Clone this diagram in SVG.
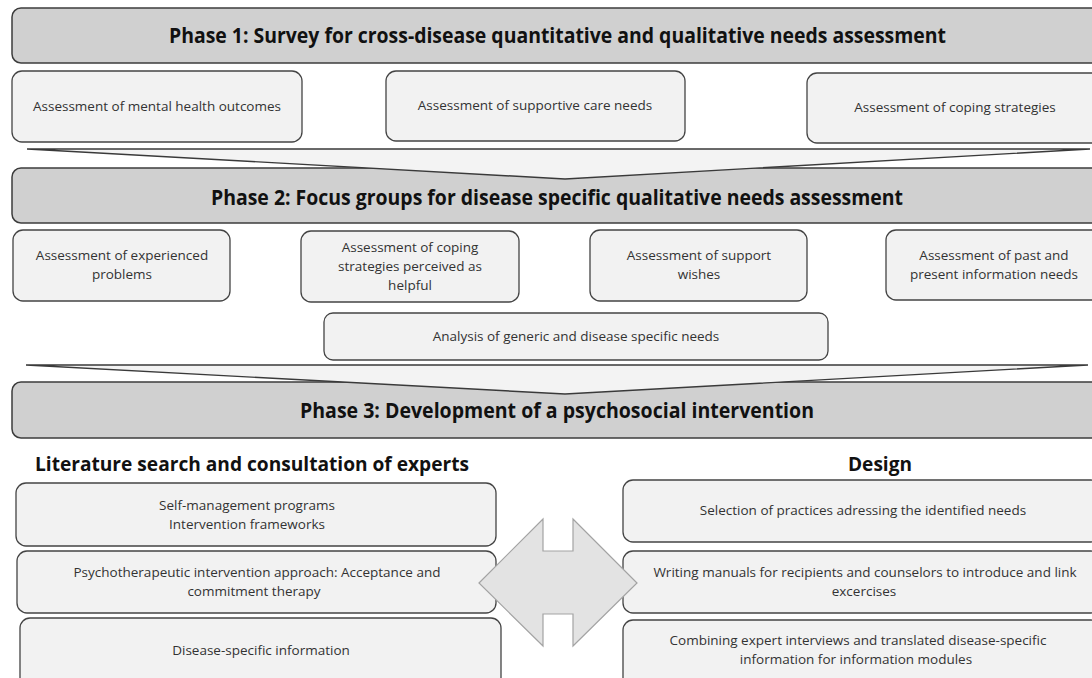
<svg xmlns="http://www.w3.org/2000/svg" width="1092" height="678" viewBox="0 0 1092 678">
  <style>
    .bar { fill: #d0d0d0; stroke: #3c3c3c; stroke-width: 1.5; }
    .box { fill: #f2f2f2; stroke: #444444; stroke-width: 1.3; }
    .chev { fill: #f3f3f3; stroke: #3a3a3a; stroke-width: 1.4; stroke-linejoin: miter; }
    .dbl { fill: #e3e3e3; stroke: #a3a3a3; stroke-width: 1.2; }
    .ph { font-family: "Open Sans", "Liberation Sans", sans-serif; font-weight: 700; font-size: 20.5px; fill: #111111; text-anchor: middle; }
    .hd { font-family: "Open Sans", "Liberation Sans", sans-serif; font-weight: 700; font-size: 19.5px; fill: #111111; text-anchor: middle; }
    .t { font-family: "Open Sans", "Liberation Sans", sans-serif; font-size: 13.5px; fill: #333333; text-anchor: middle; }
  </style>

  <rect width="1092" height="678" fill="#ffffff"/>

  <!-- Phase 1 -->
  <g id="phase1">
    <rect class="bar" x="12" y="8" width="1092" height="55" rx="9"/>
    <text class="ph" x="557.5" y="43" textLength="777" lengthAdjust="spacingAndGlyphs">Phase 1: Survey for cross-disease quantitative and qualitative needs assessment</text>
  </g>
  <g id="p1-mental-health">
    <rect class="box" x="12" y="71" width="290" height="71" rx="10"/>
    <text class="t" x="157" y="111">Assessment of mental health outcomes</text>
  </g>
  <g id="p1-supportive-care">
    <rect class="box" x="386" y="71" width="299" height="70" rx="10"/>
    <text class="t" x="535" y="110">Assessment of supportive care needs</text>
  </g>
  <g id="p1-coping">
    <rect class="box" x="807" y="73" width="296" height="70" rx="10"/>
    <text class="t" x="955" y="112">Assessment of coping strategies</text>
  </g>

  <!-- Phase 2 -->
  <g id="phase2">
    <rect class="bar" x="12" y="168" width="1092" height="55" rx="9"/>
  </g>

  <!-- Phase 3 -->
  <g id="phase3">
    <rect class="bar" x="12" y="382" width="1092" height="56" rx="9"/>
  </g>

  <!-- transitions between phases -->
  <g id="connectors">
    <polygon class="chev" points="27,149 1090,149 565,179"/>
    <polygon class="chev" points="26,365 1088,365 565,394"/>
  </g>

  <g id="phase2-label">
    <text class="ph" x="557" y="205" textLength="692" lengthAdjust="spacingAndGlyphs">Phase 2: Focus groups for disease specific qualitative needs assessment</text>
  </g>
  <g id="p2-problems">
    <rect class="box" x="13" y="230" width="217" height="71" rx="10"/>
    <text class="t" x="122" y="260">Assessment of experienced</text>
    <text class="t" x="122" y="279">problems</text>
  </g>
  <g id="p2-coping">
    <rect class="box" x="301" y="231" width="218" height="71" rx="10"/>
    <text class="t" x="410" y="251.5">Assessment of coping</text>
    <text class="t" x="410" y="270.5">strategies perceived as</text>
    <text class="t" x="410" y="289.5">helpful</text>
  </g>
  <g id="p2-support">
    <rect class="box" x="590" y="230" width="217" height="71" rx="10"/>
    <text class="t" x="699" y="260">Assessment of support</text>
    <text class="t" x="699" y="279">wishes</text>
  </g>
  <g id="p2-information">
    <rect class="box" x="886" y="230" width="216" height="70" rx="10"/>
    <text class="t" x="994" y="260">Assessment of past and</text>
    <text class="t" x="994" y="279">present information needs</text>
  </g>
  <g id="p2-analysis">
    <rect class="box" x="324" y="313" width="504" height="47" rx="9"/>
    <text class="t" x="576" y="341">Analysis of generic and disease specific needs</text>
  </g>

  <g id="phase3-label">
    <text class="ph" x="557" y="418" textLength="514" lengthAdjust="spacingAndGlyphs">Phase 3: Development of a psychosocial intervention</text>
  </g>

  <g id="heading-literature">
    <text class="hd" x="252" y="471" textLength="434" lengthAdjust="spacingAndGlyphs">Literature search and consultation of experts</text>
  </g>
  <g id="heading-design">
    <text class="hd" x="880" y="471" textLength="64" lengthAdjust="spacingAndGlyphs">Design</text>
  </g>

  <g id="lit-programs">
    <rect class="box" x="16" y="483" width="480" height="63" rx="10"/>
    <text class="t" x="247" y="510">Self-management programs</text>
    <text class="t" x="247" y="529">Intervention frameworks</text>
  </g>
  <g id="lit-act">
    <rect class="box" x="17" y="551" width="479" height="62" rx="10"/>
    <text class="t" x="257" y="577">Psychotherapeutic intervention approach: Acceptance and</text>
    <text class="t" x="254" y="596">commitment therapy</text>
  </g>
  <g id="lit-disease">
    <rect class="box" x="20" y="618" width="481" height="72" rx="10"/>
    <text class="t" x="261" y="655">Disease-specific information</text>
  </g>

  <g id="design-selection">
    <rect class="box" x="623" y="480" width="478" height="62" rx="10"/>
    <text class="t" x="863" y="515">Selection of practices adressing the identified needs</text>
  </g>
  <g id="design-manuals">
    <rect class="box" x="623" y="551" width="478" height="62" rx="10"/>
    <text class="t" x="865" y="577">Writing manuals for recipients and counselors to introduce and link</text>
    <text class="t" x="864" y="596">excercises</text>
  </g>
  <g id="design-modules">
    <rect class="box" x="623" y="620" width="478" height="70" rx="10"/>
    <text class="t" x="858" y="645">Combining expert interviews and translated disease-specific</text>
    <text class="t" x="856" y="664">information for information modules</text>
  </g>

  <!-- two-way link between literature and design columns -->
  <g id="connectors-phase3">
    <polygon class="dbl" points="479,583 543,519 543,551 573,551 573,519 637,583 573,646 573,614 543,614 543,646"/>
  </g>
</svg>
